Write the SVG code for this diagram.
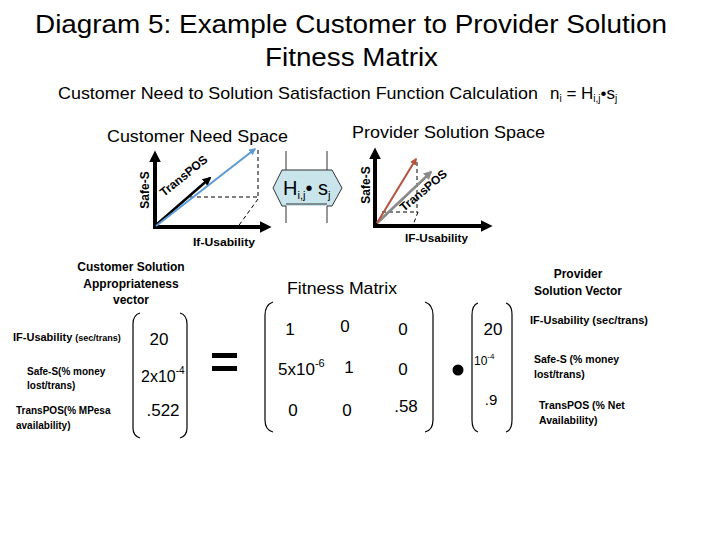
<svg xmlns="http://www.w3.org/2000/svg" width="720" height="540" viewBox="0 0 720 540">
<defs>
<style>
.t{font-family:"Liberation Sans",Arial,sans-serif;fill:#000}
.b{font-family:"Liberation Sans",Arial,sans-serif;font-weight:bold;fill:#000}
.ax{stroke:#000;stroke-width:4;fill:none}
.dash{stroke:#000;stroke-width:1;stroke-dasharray:4 3;fill:none}
.par{stroke:#000;stroke-width:1.2;fill:none}
</style>
<marker id="mk" viewBox="0 0 10 10" refX="2" refY="5" markerWidth="3" markerHeight="3" orient="auto"><path d="M0,0L10,5L0,10z" fill="#000"/></marker>
<marker id="mb" viewBox="0 0 10 10" refX="8" refY="5" markerWidth="3.5" markerHeight="3.5" orient="auto"><path d="M0,0L10,5L0,10z" fill="#5b9bd5"/></marker>
<marker id="mr" viewBox="0 0 10 10" refX="8" refY="5" markerWidth="3.5" markerHeight="3.5" orient="auto"><path d="M0,0L10,5L0,10z" fill="#b5523b"/></marker>
<marker id="mg" viewBox="0 0 10 10" refX="8" refY="5" markerWidth="3.5" markerHeight="3.5" orient="auto"><path d="M0,0L10,5L0,10z" fill="#8c8c8c"/></marker>
<marker id="mk2" viewBox="0 0 10 10" refX="8" refY="5" markerWidth="3.5" markerHeight="3.5" orient="auto"><path d="M0,0L10,5L0,10z" fill="#000"/></marker>
</defs>
<rect width="720" height="540" fill="#fff"/>

<g id="title">
<text class="t" x="35" y="33" font-size="26" textLength="632" lengthAdjust="spacingAndGlyphs">Diagram 5: Example Customer to Provider Solution</text>
<text class="t" x="265" y="66" font-size="26" textLength="173" lengthAdjust="spacingAndGlyphs">Fitness Matrix</text>
</g>
<g id="subtitle">
<text class="t" x="58" y="99" font-size="17" textLength="480" lengthAdjust="spacingAndGlyphs">Customer Need to Solution Satisfaction Function Calculation</text>
<text class="t" x="550" y="99" font-size="17">n<tspan font-size="10" dy="3">i</tspan><tspan dy="-3"> = H</tspan><tspan font-size="10" dy="3">i,j</tspan><tspan dy="-3">•s</tspan><tspan font-size="10" dy="3">j</tspan></text>
</g>

<g id="customer-need-space">
<text class="t" x="107" y="142" font-size="17" textLength="181" lengthAdjust="spacingAndGlyphs">Customer Need Space</text>
<line class="ax" x1="155" y1="229" x2="155" y2="160" marker-end="url(#mk)"/>
<line class="ax" x1="153" y1="227" x2="262" y2="227" marker-end="url(#mk)"/>
<line class="dash" x1="258" y1="150" x2="258" y2="198"/>
<line class="dash" x1="190" y1="197" x2="258" y2="197"/>
<line class="dash" x1="258" y1="199" x2="237" y2="228"/>
<line x1="156" y1="225" x2="210" y2="178" stroke="#000" stroke-width="2.5" marker-end="url(#mk2)"/>
<line x1="156" y1="226" x2="255" y2="149" stroke="#5b9bd5" stroke-width="2" marker-end="url(#mb)"/>
<text class="b" font-size="12" transform="translate(149,190) rotate(-90)" text-anchor="middle">Safe-S</text>
<text class="b" font-size="12" transform="translate(164,197) rotate(-39)">TransPOS</text>
<text class="b" x="193" y="246" font-size="11" textLength="62" lengthAdjust="spacingAndGlyphs">If-Usability</text>
</g>

<g id="transform">
<path d="M286,170 L282,170 L273,188 L282,206 L286,206 L327,206 L332,206 L342,188 L332,170 L327,170 Z" fill="#c9e5eb" stroke="none"/>
<path d="M286,151 L286,170 L282,170 L273,188 L282,206 L286,206 L286,223 M327,151 L327,170 L332,170 L342,188 L332,206 L327,206 L327,223 M286,170 L327,170 M286,204 L327,204" fill="none" stroke="#333" stroke-width="1"/>
<text class="t" x="283" y="195" font-size="20">H<tspan font-size="11" dy="4">i,j</tspan><tspan dy="-4">• s</tspan><tspan font-size="11" dy="4">j</tspan></text>
</g>

<g id="provider-solution-space">
<text class="t" x="352" y="138" font-size="17" textLength="193" lengthAdjust="spacingAndGlyphs">Provider Solution Space</text>
<line class="ax" x1="375" y1="228" x2="375" y2="157" marker-end="url(#mk)"/>
<line class="ax" x1="373" y1="226" x2="483" y2="226" marker-end="url(#mk)"/>
<line class="dash" x1="417" y1="162" x2="417" y2="213"/>
<line class="dash" x1="382" y1="212" x2="417" y2="212"/>
<line class="dash" x1="418" y1="212" x2="413" y2="225"/>
<line x1="377" y1="224" x2="430" y2="174" stroke="#000" stroke-width="1"/>
<line x1="377" y1="223" x2="431" y2="172" stroke="#8c8c8c" stroke-width="2.5" marker-end="url(#mg)"/>
<line x1="377" y1="223" x2="416" y2="159" stroke="#b5523b" stroke-width="2" marker-end="url(#mr)"/>
<text class="b" font-size="12" transform="translate(370,185) rotate(-90)" text-anchor="middle">Safe-S</text>
<text class="b" font-size="12" transform="translate(404,212) rotate(-40)">TransPOS</text>
<text class="b" x="405" y="242" font-size="11" textLength="63" lengthAdjust="spacingAndGlyphs">IF-Usability</text>
</g>

<g id="customer-vector">
<text class="b" x="131" y="271" font-size="12" text-anchor="middle">Customer Solution</text>
<text class="b" x="131" y="288" font-size="12" text-anchor="middle">Appropriateness</text>
<text class="b" x="131" y="304" font-size="12" text-anchor="middle">vector</text>
<text class="b" x="13" y="341" font-size="11">IF-Usability <tspan font-size="9">(sec/trans)</tspan></text>
<text class="b" x="27" y="375" font-size="10">Safe-S(% money</text>
<text class="b" x="27" y="389" font-size="10">lost/trans)</text>
<text class="b" x="16" y="414" font-size="10">TransPOS(% MPesa</text>
<text class="b" x="16" y="429" font-size="10">availability)</text>
<path class="par" d="M140,313 Q133,315 133,324 L133,428 Q133,436 140,438"/>
<path class="par" d="M180,313 Q187,315 187,324 L187,428 Q187,436 180,438"/>
<text class="t" x="159" y="345" font-size="17" text-anchor="middle">20</text>
<text class="t" x="141" y="382" font-size="16">2x10<tspan font-size="10" dy="-8">-4</tspan></text>
<text class="t" x="163" y="416" font-size="17" text-anchor="middle">.522</text>
</g>

<g id="equals">
<rect x="212" y="353" width="25" height="5" fill="#000"/>
<rect x="212" y="366" width="25" height="5" fill="#000"/>
</g>

<g id="fitness-matrix">
<text class="t" x="287" y="294" font-size="17" textLength="110" lengthAdjust="spacingAndGlyphs">Fitness Matrix</text>
<path class="par" d="M273,302 Q265,305 265,315 L265,420 Q265,430 273,432"/>
<path class="par" d="M425,302 Q433,305 433,315 L433,420 Q433,430 425,432"/>
<text class="t" x="290" y="335" font-size="17" text-anchor="middle">1</text>
<text class="t" x="345" y="332" font-size="17" text-anchor="middle">0</text>
<text class="t" x="403" y="335" font-size="17" text-anchor="middle">0</text>
<text class="t" x="278" y="375" font-size="17">5x10<tspan font-size="11" dy="-8">-6</tspan></text>
<text class="t" x="349" y="373" font-size="17" text-anchor="middle">1</text>
<text class="t" x="403" y="375" font-size="17" text-anchor="middle">0</text>
<text class="t" x="293" y="416" font-size="17" text-anchor="middle">0</text>
<text class="t" x="347" y="416" font-size="17" text-anchor="middle">0</text>
<text class="t" x="406" y="412" font-size="17" text-anchor="middle">.58</text>
</g>

<g id="dot">
<circle cx="458" cy="370" r="5.5" fill="#000"/>
</g>

<g id="provider-vector">
<text class="b" x="578" y="278" font-size="12" text-anchor="middle">Provider</text>
<text class="b" x="578" y="295" font-size="12" text-anchor="middle">Solution Vector</text>
<path class="par" d="M478,303 Q472,305 472,315 L472,420 Q472,430 478,432"/>
<path class="par" d="M506,303 Q512,305 512,315 L512,420 Q512,430 506,432"/>
<text class="t" x="493" y="335" font-size="17" text-anchor="middle">20</text>
<text class="t" x="474" y="365" font-size="12">10<tspan font-size="8" dy="-6">-4</tspan></text>
<text class="t" x="491" y="405" font-size="15" text-anchor="middle">.9</text>
<text class="b" x="530" y="324" font-size="11">IF-Usability (sec/trans)</text>
<text class="b" x="534" y="363" font-size="10.5">Safe-S (% money</text>
<text class="b" x="534" y="378" font-size="10.5">lost/trans)</text>
<text class="b" x="539" y="409" font-size="10.5">TransPOS (% Net</text>
<text class="b" x="539" y="424" font-size="10.5">Availability)</text>
</g>
</svg>
